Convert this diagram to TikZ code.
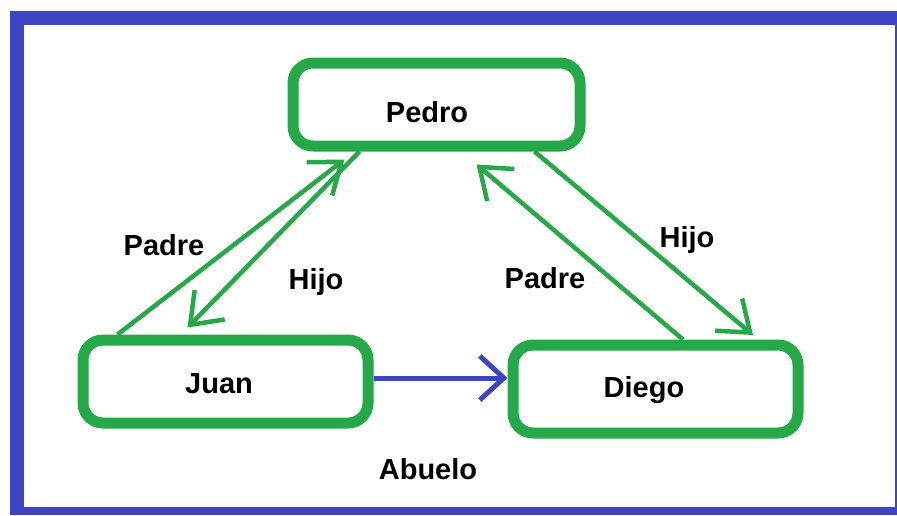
\documentclass[tikz,border=0pt]{standalone}
\usepackage{fontspec}
\setmainfont{Liberation Sans}
\usetikzlibrary{arrows.meta,calc}
\definecolor{frameblue}{RGB}{62,68,196}
\definecolor{boxgreen}{RGB}{36,168,72}
\begin{document}
\begin{tikzpicture}[x=1pt,y=-1pt,
  box/.style={draw=boxgreen, line width=11pt, rounded corners=20pt, inner sep=0pt},
  lbl/.style={font=\fontsize{29}{34}\selectfont\bfseries, anchor=base, inner sep=0pt, text=black},
  rel/.style={draw=boxgreen, line width=4.5pt, -{Straight Barb[length=28pt,width=42pt]}},
  blu/.style={draw=frameblue, line width=5pt, -{Straight Barb[length=24pt,width=44pt]}}]
\useasboundingbox (0,0) rectangle (897,515);
\fill[white] (0,0) rectangle (897,515);
\fill[frameblue] (10,11) rectangle (897,515);
\fill[white] (24,25) rectangle (895,507);
% boxes
\node[box, minimum width=287pt, minimum height=83pt] (pedro) at (436.5,104.5) {};
\node[box, minimum width=285pt, minimum height=83pt] (juan) at (225.5,381.5) {};
\node[box, minimum width=285pt, minimum height=88pt] (diego) at (655.5,389) {};
% box texts
\node[lbl] (tpedro) at (427,122) {Pedro};
\node[lbl] (tjuan) at (219,393) {Juan};
\node[lbl] (tdiego) at (644,397) {Diego};
% connectors
\draw[rel] ([xshift=40pt]juan.north west) -- ([xshift=57pt,yshift=-8pt]pedro.south west);
\draw[rel] ([xshift=72pt]pedro.south west) -- ([xshift=110pt,yshift=7pt]juan.north west);
\draw[rel] ([xshift=175.5pt]diego.north west) -- ([xshift=189pt,yshift=-13pt]pedro.south west);
\draw[rel] ([xshift=247pt]pedro.south west) -- ([xshift=245.5pt,yshift=4.5pt]diego.north west);
\draw[blu] ([yshift=3.5pt]juan.east) -- ([yshift=11pt]diego.west);
% connector labels
\node[lbl] (padre1) at (164,255) {Padre};
\node[lbl] (hijo1) at (316,289) {Hijo};
\node[lbl] (padre2) at (545,288) {Padre};
\node[lbl] (hijo2) at (687,247) {Hijo};
\node[lbl] (abuelo) at (428,479) {Abuelo};
\end{tikzpicture}
\end{document}
